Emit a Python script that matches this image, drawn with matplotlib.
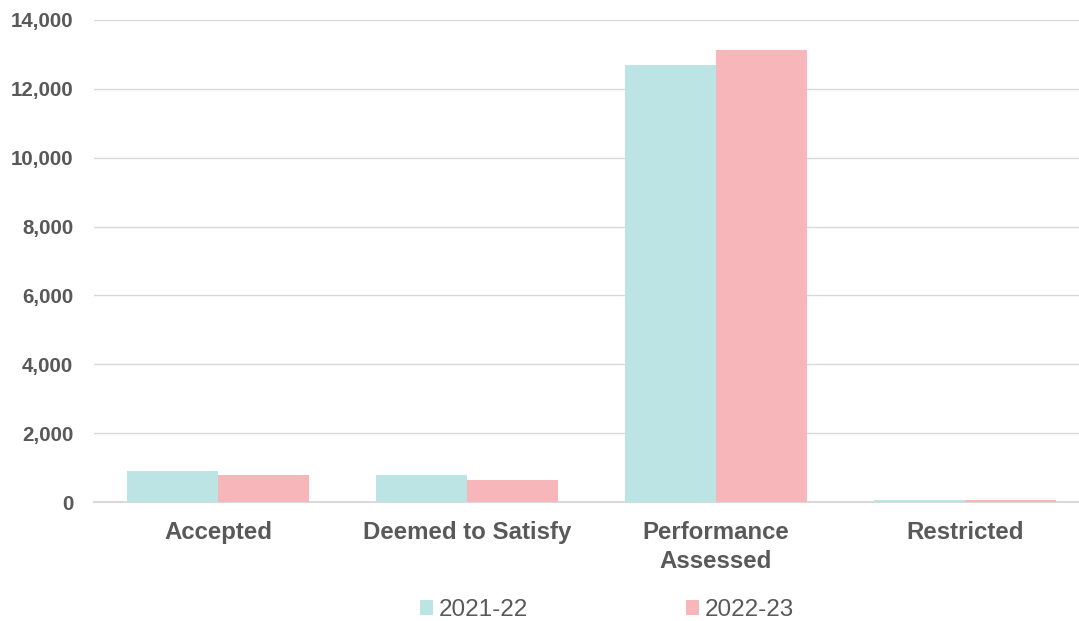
import matplotlib.pyplot as plt
import numpy as np
from matplotlib.ticker import FuncFormatter

plt.rcParams['font.family'] = ['Liberation Sans', 'DejaVu Sans']

categories = ["Accepted", "Deemed to Satisfy", "Performance\nAssessed", "Restricted"]
series_names = ["2021-22", "2022-23"]
values_2122 = [900, 785, 12700, 55]
values_2223 = [785, 640, 13140, 60]
colors = ["#BDE4E4", "#F7B6BA"]
text_grey = "#595959"

fig = plt.figure(figsize=(10.79, 6.21), dpi=100)
# plot area runs slightly past the right edge of the figure
ax = fig.add_axes([93.5 / 1079, 1 - 502 / 621, 996 / 1079, (502 - 20) / 621])

x = np.arange(len(categories))
w = 0.365
ax.bar(x - w / 2, values_2122, w, color=colors[0], label=series_names[0], zorder=3)
ax.bar(x + w / 2, values_2223, w, color=colors[1], label=series_names[1], zorder=3)

ax.set_xlim(-0.5, len(categories) - 0.5)
ax.set_ylim(0, 14000)
ax.set_yticks(np.arange(0, 14001, 2000))
ax.yaxis.set_major_formatter(FuncFormatter(lambda v, p: f"{int(v):,}"))
ax.grid(axis="y", color="#D9D9D9", linewidth=1, zorder=0)

for s in ["top", "right", "left"]:
    ax.spines[s].set_visible(False)
ax.spines["bottom"].set_color("#D9D9D9")
ax.spines["bottom"].set_linewidth(1.5)

ax.set_xticks(x)
ax.set_xticklabels(categories, fontsize=17.3, fontweight="bold", color=text_grey,
                   linespacing=1.3)
ax.tick_params(axis="x", length=0, pad=14)
ax.tick_params(axis="y", length=0, pad=14.5, labelsize=14.8, labelcolor=text_grey)
for lbl in ax.get_yticklabels():
    lbl.set_fontweight("bold")

leg = fig.legend(*ax.get_legend_handles_labels(), loc="center left",
                 bbox_to_anchor=(398 / 1079, 1 - 610 / 621), ncol=2, frameon=False,
                 fontsize=17.5, handlelength=0.55, handleheight=0.55, handletextpad=0.22,
                 columnspacing=6.5)
for t in leg.get_texts():
    t.set_color(text_grey)

fig.savefig("out.png", dpi=100)
